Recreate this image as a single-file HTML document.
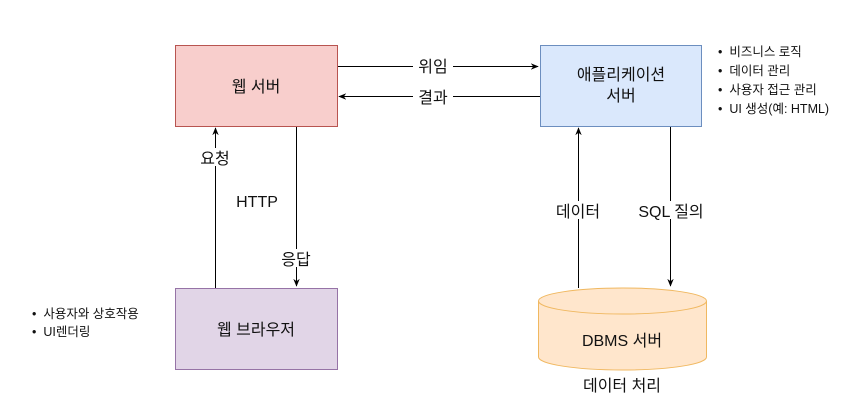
<!DOCTYPE html>
<html><head><meta charset="utf-8"><style>
body{margin:0;background:#fff;}
svg text{font-family:"Liberation Sans","Noto Sans CJK KR",sans-serif;fill:#111;}
</style></head><body>
<svg width="867" height="403" viewBox="0 0 867 403" xmlns="http://www.w3.org/2000/svg">
<defs><marker id="a" viewBox="0 0 10 10" refX="9" refY="5" markerWidth="8" markerHeight="8" orient="auto"><path d="M0,1 L10,5 L0,9 L3,5z" fill="#000"/></marker></defs>
<rect x="175.5" y="45.5" width="162" height="81" fill="#f8cecc" stroke="#b85450"/>
<text x="256" y="92" font-size="16" text-anchor="middle">웹 서버</text>
<rect x="540.5" y="45.5" width="161" height="81" fill="#dae8fc" stroke="#6c8ebf"/>
<text x="621" y="80" font-size="16" text-anchor="middle">애플리케이션</text>
<text x="621" y="101" font-size="16" text-anchor="middle">서버</text>
<rect x="175.5" y="288.5" width="162" height="81" fill="#e1d5e7" stroke="#9673a6"/>
<text x="256" y="335" font-size="16" text-anchor="middle">웹 브라우저</text>
<path d="M538.5,301 L538.5,357 A84,13 0 0 0 706.5,357 L706.5,301" fill="#ffe6cc" stroke="#f0b860"/>
<ellipse cx="622.5" cy="301" rx="84" ry="13" fill="#ffe6cc" stroke="#f0b860"/>
<text x="622" y="346" font-size="16" text-anchor="middle">DBMS 서버</text>
<text x="622" y="391" font-size="16" text-anchor="middle">데이터 처리</text>
<line x1="338" y1="66.5" x2="538" y2="66.5" stroke="#000" marker-end="url(#a)"/>
<rect x="413" y="57" width="40" height="18" fill="#fff"/>
<text x="433" y="72" font-size="16" text-anchor="middle">위임</text>
<line x1="540" y1="96.5" x2="339" y2="96.5" stroke="#000" marker-end="url(#a)"/>
<rect x="413" y="87" width="40" height="18" fill="#fff"/>
<text x="433" y="103" font-size="16" text-anchor="middle">결과</text>
<line x1="215.5" y1="288" x2="215.5" y2="128" stroke="#000" marker-end="url(#a)"/>
<rect x="195" y="148" width="42" height="18" fill="#fff"/>
<text x="215" y="164" font-size="16" text-anchor="middle">요청</text>
<text x="257" y="207" font-size="16" text-anchor="middle">HTTP</text>
<line x1="296.5" y1="127" x2="296.5" y2="286" stroke="#000" marker-end="url(#a)"/>
<rect x="276" y="249" width="42" height="18" fill="#fff"/>
<text x="296" y="265" font-size="16" text-anchor="middle">응답</text>
<line x1="578.5" y1="288" x2="578.5" y2="128" stroke="#000" marker-end="url(#a)"/>
<rect x="553" y="201" width="50" height="18" fill="#fff"/>
<text x="578" y="217" font-size="16" text-anchor="middle">데이터</text>
<line x1="670.5" y1="127" x2="670.5" y2="286" stroke="#000" marker-end="url(#a)"/>
<rect x="630" y="201" width="82" height="18" fill="#fff"/>
<text x="671" y="217" font-size="16" text-anchor="middle">SQL 질의</text>
<g font-size="12.5">
<text x="718" y="56">•&#160; 비즈니스 로직</text>
<text x="718" y="75">•&#160; 데이터 관리</text>
<text x="718" y="94">•&#160; 사용자 접근 관리</text>
<text x="718" y="113">•&#160; UI 생성(예: HTML)</text>
<text x="32" y="318">•&#160; 사용자와 상호작용</text>
<text x="32" y="336">•&#160; UI렌더링</text>
</g>
</svg>
</body></html>
